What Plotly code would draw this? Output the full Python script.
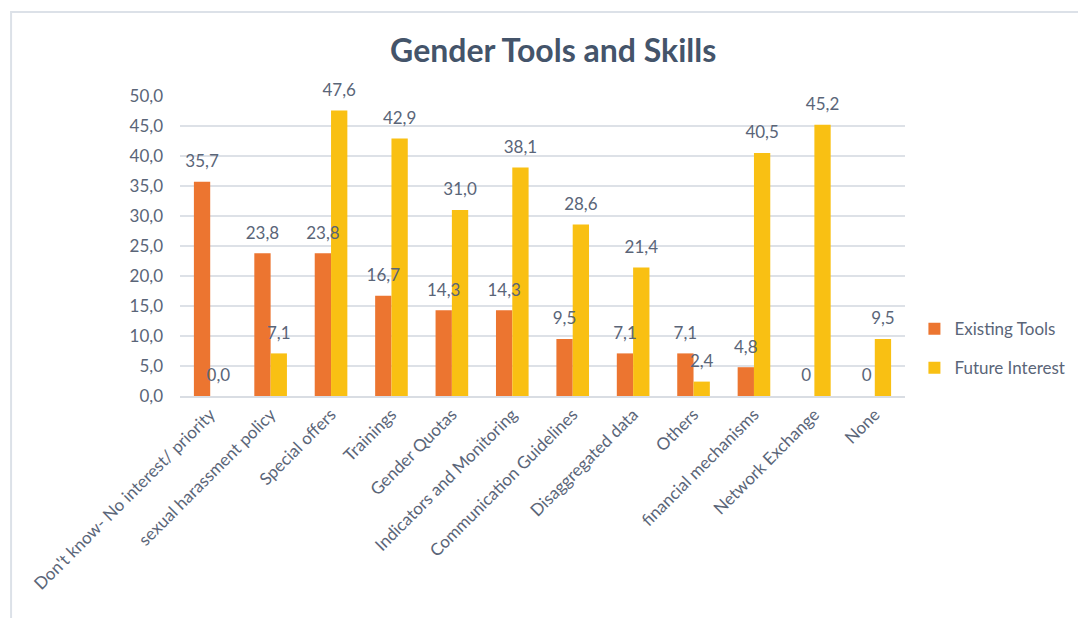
import plotly.graph_objects as go

categories = [
    "Don't know- No interest/ priority", "sexual harassment policy", "Special offers",
    "Trainings", "Gender Quotas", "Indicators and Monitoring",
    "Communication Guidelines", "Disaggregated data", "Others",
    "financial mechanisms", "Network Exchange", "None",
]
existing_tools = [35.7, 23.8, 23.8, 16.7, 14.3, 14.3, 9.5, 7.1, 7.1, 4.8, 0, 0]
future_interest = [0.0, 7.1, 47.6, 42.9, 31.0, 38.1, 28.6, 21.4, 2.4, 40.5, 45.2, 9.5]
existing_labels = ["35,7", "23,8", "23,8", "16,7", "14,3", "14,3", "9,5", "7,1", "7,1", "4,8", "0", "0"]
future_labels = ["0,0", "7,1", "47,6", "42,9", "31,0", "38,1", "28,6", "21,4", "2,4", "40,5", "45,2", "9,5"]

FONT = "Lato"
TXT = "#44546A"
GREY = "#5A6578"

fig = go.Figure()
fig.add_trace(go.Bar(
    x=categories, y=existing_tools, name="Existing Tools", legendgroup="a",
    offsetgroup="a", marker=dict(color="#EC7530", line=dict(width=0)),
))
fig.add_trace(go.Bar(
    x=categories, y=future_interest, name="Future Interest", legendgroup="b",
    offsetgroup="b", marker=dict(color="#F9C013", line=dict(width=0)),
))

# étiquettes de valeurs au-dessus des barres (couche scatter, donc jamais masquées)
# marqueur invisible pour décoller le texte du haut de la barre
for vals, labels, grp in [(existing_tools, existing_labels, "a"),
                          (future_interest, future_labels, "b")]:
    fig.add_trace(go.Scatter(
        x=categories, y=vals, text=labels, mode="markers+text", offsetgroup=grp,
        marker=dict(size=15, color="rgba(0,0,0,0)"),
        textposition="top center", showlegend=False, hoverinfo="skip",
        textfont=dict(family=FONT, size=17, color=GREY), cliponaxis=False,
    ))

# cadre du graphique
fig.add_shape(type="rect", xref="paper", yref="paper",
              x0=-0.233, x1=1.3, y0=-0.8, y1=1.28,
              line=dict(color="#DCE1E8", width=2), layer="below")

# la page html ajoute une marge de 8 px : on compense
fig.update_layout(
    title=dict(text="<b>Gender Tools and Skills</b>", x=0.502, xanchor="center",
               y=0.93, yanchor="middle",
               font=dict(family=FONT, size=32, color=TXT)),
    barmode="group", bargap=0.46, bargroupgap=0,
    scattermode="group", scattergap=0.46,
    separators=",.",
    width=1086, height=618,
    margin=dict(l=172, r=189, t=88, b=230),
    plot_bgcolor="white", paper_bgcolor="white",
    font=dict(family=FONT, size=17, color=GREY),
    showlegend=True,
    legend=dict(x=1.013, y=0.158, xanchor="left", yanchor="middle",
                font=dict(family=FONT, size=17, color=GREY),
                itemwidth=30, tracegroupgap=14),
    xaxis=dict(tickangle=-45, showgrid=False, showline=True,
               linecolor="#D9DDE3", linewidth=2, ticks="",
               tickfont=dict(family=FONT, size=17, color=GREY)),
    yaxis=dict(range=[0, 50], dtick=5, tickformat=".1f",
               showgrid=True, gridcolor="#DDE1E7", gridwidth=2,
               zeroline=False, showline=False, ticks="",
               ticklabelstandoff=16,
               tickfont=dict(family=FONT, size=17, color=GREY)),
)

fig.write_html("out.html")
